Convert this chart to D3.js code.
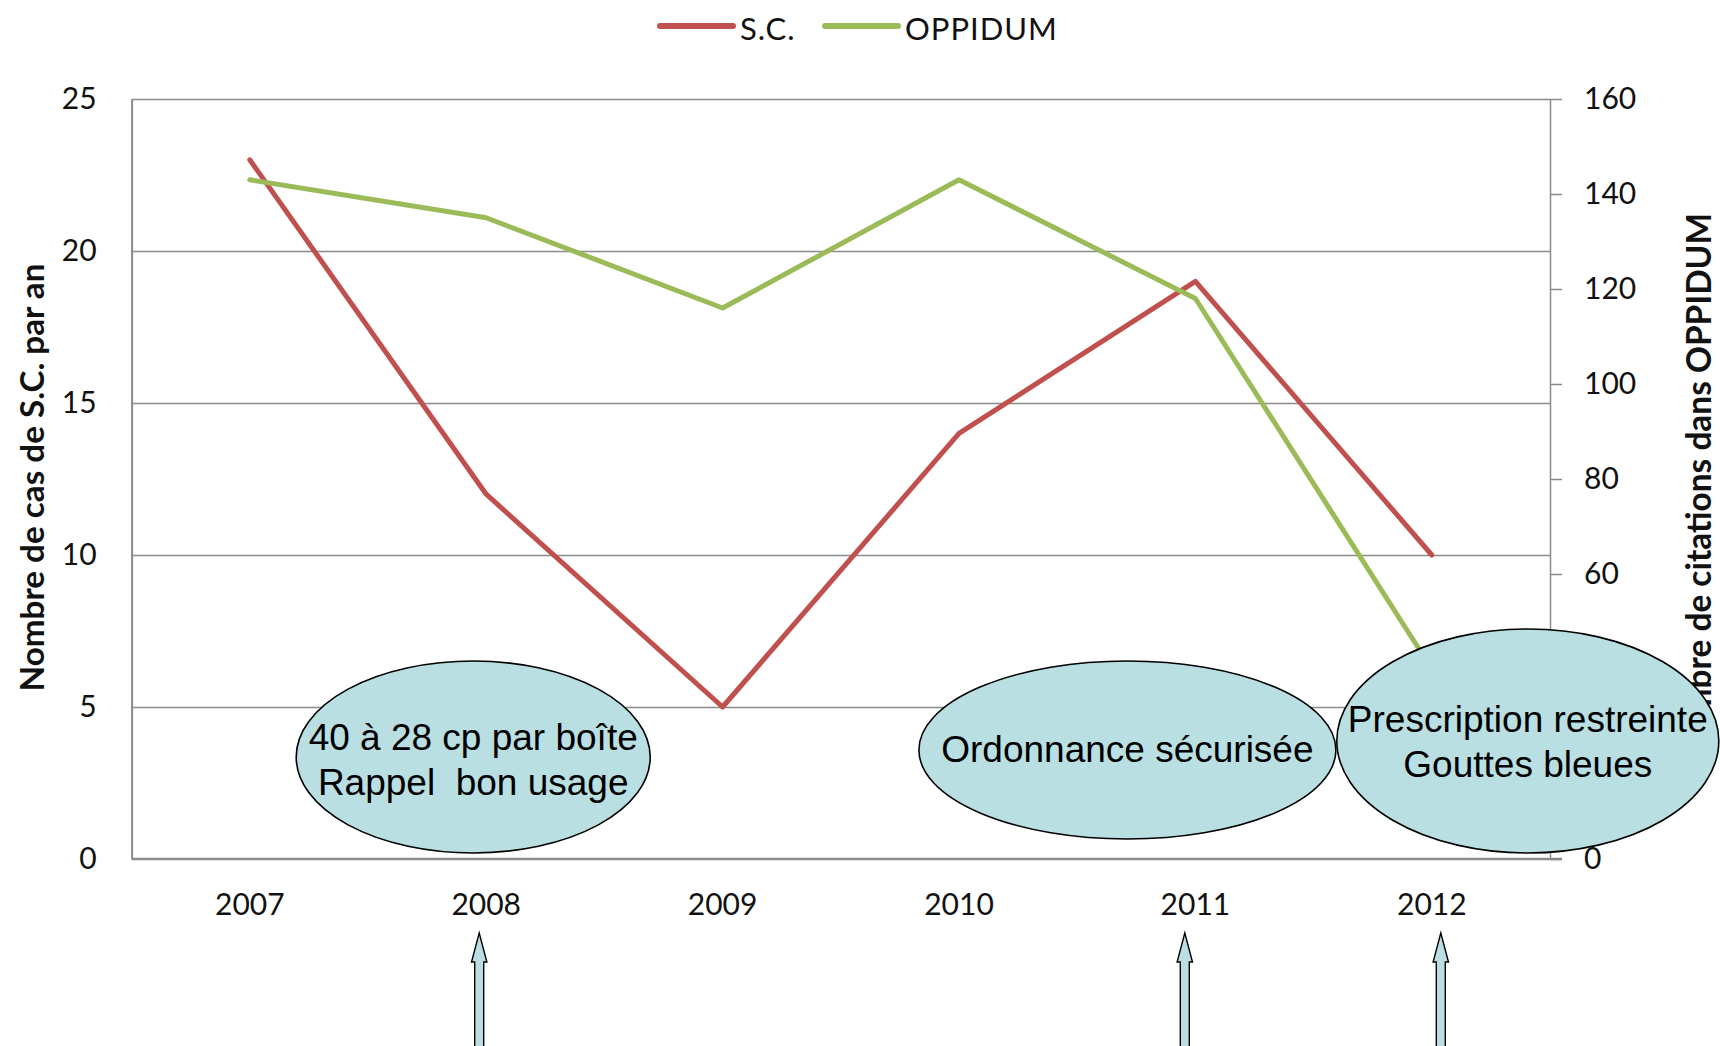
<!DOCTYPE html>
<html><head><meta charset="utf-8">
<script src="https://cdn.jsdelivr.net/npm/d3@7"></script>
<style>
html,body{margin:0;padding:0;background:#fff;}
svg{display:block;}
</style></head>
<body>
<svg id="chart" width="1720" height="1046"></svg>
<script>
// ---- data ----
const years = ["2007","2008","2009","2010","2011","2012"];
const scValues = [23, 12, 5, 14, 19, 10];
const oppidumValues = [143, 135, 116, 143, 118, 40];
const leftTicks = [0, 5, 10, 15, 20, 25];
const rightTicks = [0, 20, 40, 60, 80, 100, 120, 140, 160];
const seriesNames = ["S.C.", "OPPIDUM"];
const leftTitle = "Nombre de cas de S.C. par an";
const rightTitle = "Nombre de citations dans OPPIDUM";
const noteYears = ["2008", "2011", "2012"];
const noteLines = [
  ["40 à 28 cp par boîte", "Rappel  bon usage"],
  ["Ordonnance sécurisée"],
  ["Prescription restreinte", "Gouttes bleues"]
];

// ---- layout (pixels) ----
const M = {left: 131.6, right: 1550, top: 99, bottom: 859};
const colors = {sc: "#C0504D", op: "#9BBB59", grid: "#8a8a8a", note: "#B9DFE3"};
const noteLayout = [
  {dx: -13, cy: 757, rx: 177, ry: 96, base: 750},
  {dx: -68, cy: 750, rx: 208.5, ry: 89, base: 762},
  {dx: 96, cy: 741, rx: 191, ry: 112, base: 732}
];
const arrowDx = [-7, -10.6, 9];

const svg = d3.select("#chart");
const x = d3.scaleBand().domain(years).range([M.left, M.right]).padding(0);
const xc = d => x(d) + x.bandwidth() / 2;
const yL = d3.scaleLinear().domain([0, 25]).range([M.bottom, M.top]);
const yR = d3.scaleLinear().domain([0, 160]).range([M.bottom, M.top]);
const tickFont = "Lato, 'Open Sans', sans-serif";

// gridlines
const grid = svg.append("g").attr("transform", `translate(${M.left},0)`)
  .call(d3.axisLeft(yL).tickValues(leftTicks.filter(v => v > 0)).tickSize(-(M.right - M.left)).tickFormat(""));
grid.select(".domain").remove();
grid.selectAll("line").attr("stroke", colors.grid).attr("stroke-width", 1.4);

// left axis
const gl = svg.append("g").attr("transform", `translate(${M.left},0)`)
  .call(d3.axisLeft(yL).tickValues(leftTicks).tickSize(0).tickPadding(35).tickSizeOuter(0));
gl.select(".domain").attr("stroke", colors.grid).attr("stroke-width", 2);
gl.selectAll("text").attr("font-family", tickFont).attr("font-size", 30).attr("fill", "#111");

// right axis
const gr = svg.append("g").attr("transform", `translate(${M.right},0)`)
  .call(d3.axisRight(yR).tickValues(rightTicks).tickSize(12).tickPadding(22).tickSizeOuter(0));
gr.select(".domain").attr("stroke", colors.grid).attr("stroke-width", 1.5);
gr.selectAll("line").attr("stroke", colors.grid).attr("stroke-width", 1.5);
gr.selectAll("text").attr("font-family", tickFont).attr("font-size", 30).attr("fill", "#111");

// bottom axis
const gb = svg.append("g").attr("transform", `translate(0,${M.bottom})`)
  .call(d3.axisBottom(x).tickSize(0).tickPadding(35).tickSizeOuter(0));
gb.select(".domain").remove();
gb.selectAll("text").attr("font-family", tickFont).attr("font-size", 30).attr("fill", "#111");
svg.append("line").attr("x1", M.left).attr("x2", M.right + 12)
  .attr("y1", M.bottom).attr("y2", M.bottom).attr("stroke", colors.grid).attr("stroke-width", 2.5);

// series lines
const lineSC = d3.line().x((d, i) => xc(years[i])).y(d => yL(d));
const lineOP = d3.line().x((d, i) => xc(years[i])).y(d => yR(d));
svg.append("path").attr("d", lineSC(scValues)).attr("fill", "none")
  .attr("stroke", colors.sc).attr("stroke-width", 5).attr("stroke-linejoin", "round").attr("stroke-linecap", "round");
svg.append("path").attr("d", lineOP(oppidumValues)).attr("fill", "none")
  .attr("stroke", colors.op).attr("stroke-width", 5).attr("stroke-linejoin", "round").attr("stroke-linecap", "round");

// helper: fit font size to a target length
function fitSize(sel, target) {
  const fs = +sel.attr("font-size");
  const len = sel.node().getComputedTextLength();
  sel.attr("font-size", fs * target / len);
}

// axis titles
const titleFont = "Lato, 'Open Sans', sans-serif";
const lt = svg.append("text").text(leftTitle)
  .attr("font-family", titleFont).attr("font-weight", "bold").attr("font-size", 30)
  .attr("text-anchor", "middle").attr("fill", "#111");
fitSize(lt, 428);
lt.attr("transform", `translate(44,${(M.top + M.bottom) / 2 - 1.5}) rotate(-90)`);

const rt = svg.append("text").text(rightTitle)
  .attr("font-family", titleFont).attr("font-weight", "bold").attr("font-size", 30)
  .attr("text-anchor", "end").attr("fill", "#111");
fitSize(rt, 548);
rt.attr("transform", `translate(1711,213) rotate(-90)`);

// legend
const legend = [
  {name: seriesNames[0], color: colors.sc, x1: 660, x2: 733, tx: 740},
  {name: seriesNames[1], color: colors.op, x1: 825, x2: 898, tx: 905}
];
legend.forEach(l => {
  svg.append("line").attr("x1", l.x1).attr("x2", l.x2).attr("y1", 26).attr("y2", 26)
    .attr("stroke", l.color).attr("stroke-width", 6).attr("stroke-linecap", "round");
  svg.append("text").text(l.name).attr("x", l.tx).attr("y", 39.5)
    .attr("font-family", tickFont).attr("font-size", 31).attr("fill", "#111")
    .attr("letter-spacing", 1);
});

// annotation ellipses
noteYears.forEach((yr, i) => {
  const L = noteLayout[i];
  const cx = xc(yr) + L.dx;
  svg.append("ellipse").attr("cx", cx).attr("cy", L.cy).attr("rx", L.rx).attr("ry", L.ry)
    .attr("fill", colors.note).attr("stroke", "#000").attr("stroke-width", 1.6);
  noteLines[i].forEach((s, j) => {
    svg.append("text").text(s).attr("x", cx).attr("y", L.base + j * 45)
      .attr("text-anchor", "middle").attr("font-family", "'Liberation Sans', Arial, sans-serif")
      .attr("font-size", 37).attr("fill", "#000").style("white-space", "pre");
  });
});

// arrows
noteYears.forEach((yr, i) => {
  const cx = xc(yr) + arrowDx[i];
  const tip = 933, hb = 962, hw = 7.7, sw = 4.5, bot = 1050;
  const p = d3.path();
  p.moveTo(cx, tip); p.lineTo(cx + hw, hb); p.lineTo(cx + sw, hb); p.lineTo(cx + sw, bot);
  p.lineTo(cx - sw, bot); p.lineTo(cx - sw, hb); p.lineTo(cx - hw, hb); p.closePath();
  svg.append("path").attr("d", p.toString()).attr("fill", colors.note)
    .attr("stroke", "#000").attr("stroke-width", 1.4).attr("stroke-linejoin", "miter");
});
</script>
</body></html>
